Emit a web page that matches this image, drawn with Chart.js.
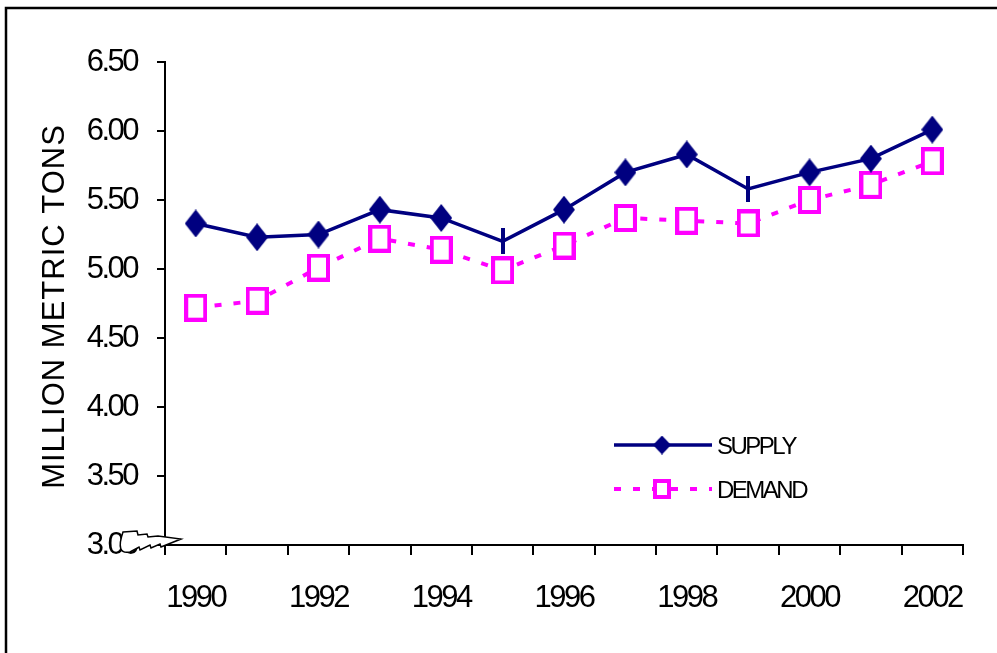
<!DOCTYPE html>
<html>
<head>
<meta charset="utf-8">
<script src="https://cdn.jsdelivr.net/npm/chart.js@4/dist/chart.umd.min.js"></script>
<style>
  html, body { margin: 0; padding: 0; background: #fff; }
  canvas { display: block; }
</style>
</head>
<body>
<canvas id="myChart" width="997" height="653"></canvas>
<script>
// chart values
const years = ['1990', '1991', '1992', '1993', '1994', '1995', '1996', '1997', '1998', '1999', '2000', '2001', '2002'];
const supply = [5.33, 5.23, 5.25, 5.43, 5.37, 5.20, 5.43, 5.70, 5.83, 5.58, 5.70, 5.80, 6.01];
const demand = [4.72, 4.77, 5.01, 5.22, 5.14, 4.99, 5.17, 5.37, 5.35, 5.33, 5.50, 5.61, 5.78];
const supplyBareYears = ['1995', '1999']; // supply points drawn only as a tick
const yMin = 3.0, yMax = 6.5, yStep = 0.5;
const yTitle = 'MILLION METRIC TONS';
const seriesNames = ['SUPPLY', 'DEMAND'];

const NAVY = '#000080';
const PINK = '#FF00FF';
const FONT = "'Liberation Sans', Arial, sans-serif";

// marker images
function diamond(w, h) {
  const c = document.createElement('canvas');
  c.width = w; c.height = h;
  const g = c.getContext('2d');
  g.fillStyle = NAVY;
  g.beginPath();
  g.moveTo(w / 2, 0); g.lineTo(w, h / 2); g.lineTo(w / 2, h); g.lineTo(0, h / 2);
  g.closePath(); g.fill();
  return c;
}
function box(w, h, lw) {
  const c = document.createElement('canvas');
  c.width = w; c.height = h;
  const g = c.getContext('2d');
  g.fillStyle = '#fff';
  g.fillRect(0, 0, w, h);
  g.strokeStyle = PINK;
  g.lineWidth = lw;
  g.strokeRect(lw / 2, lw / 2, w - lw, h - lw);
  return c;
}
function vtick(w, h) {
  const c = document.createElement('canvas');
  c.width = w; c.height = h;
  const g = c.getContext('2d');
  g.fillStyle = NAVY;
  g.fillRect(0, 0, w, h);
  return c;
}

const supplyMark = diamond(22, 28);
const supplyTick = vtick(4, 26);
const demandMark = box(23, 28, 4);
const legendDiamond = diamond(18, 19);
const legendBox = box(18, 20, 4);

// extra drawing: y title, legend inside plot, axis break
const extras = {
  id: 'extras',
  beforeDraw(chart) {
    chart.ctx.letterSpacing = '-2.5px';
  },
  afterDraw(chart) {
    const ctx = chart.ctx;
    const area = chart.chartArea;
    const ys = chart.scales.y;

    // y axis title
    ctx.save();
    ctx.letterSpacing = '1px';
    ctx.fillStyle = '#000';
    ctx.font = '31px ' + FONT;
    ctx.textAlign = 'center';
    ctx.textBaseline = 'middle';
    ctx.translate(55, (area.top + area.bottom) / 2 + 3);
    ctx.rotate(-Math.PI / 2);
    ctx.fillText(yTitle, 0, 0);
    ctx.restore();

    // legend
    const lx0 = 614, lx1 = 712, mid = 662;
    const rows = [445, 489];
    ctx.save();
    ctx.letterSpacing = '-2.5px';
    ctx.font = '24px ' + FONT;
    ctx.fillStyle = '#000';
    ctx.textBaseline = 'middle';
    ctx.textAlign = 'left';
    // supply
    ctx.strokeStyle = NAVY;
    ctx.lineWidth = 3.5;
    ctx.beginPath(); ctx.moveTo(lx0, rows[0]); ctx.lineTo(lx1, rows[0]); ctx.stroke();
    ctx.drawImage(legendDiamond, mid - 9, rows[0] - 9.5);
    ctx.fillText(seriesNames[0], 717, rows[0] + 2);
    // demand
    ctx.strokeStyle = PINK;
    ctx.lineWidth = 4;
    ctx.setLineDash([7, 12]);
    ctx.beginPath(); ctx.moveTo(lx0, rows[1]); ctx.lineTo(lx1, rows[1]); ctx.stroke();
    ctx.setLineDash([]);
    ctx.drawImage(legendBox, mid - 9, rows[1] - 10);
    ctx.fillText(seriesNames[1], 717, rows[1] + 2);
    ctx.restore();

    // axis break at the bottom of the y axis
    const ox = area.left, oy = ys.getPixelForValue(yMin);
    const pts = [[-42, -13], [-28, -14], [-27, -10], [-18, -11], [-17, -8], [-7, -9], [16, -6],
                 [-4, 2], [-5, -1], [-14, 3], [-15, 0], [-25, 5], [-26, 2], [-35, 7]];
    ctx.save();
    ctx.beginPath();
    ctx.moveTo(ox + pts[0][0], oy + pts[0][1]);
    for (let i = 1; i < pts.length; i++) ctx.lineTo(ox + pts[i][0], oy + pts[i][1]);
    ctx.quadraticCurveTo(ox - 50, oy + 10, ox - 42, oy - 13);
    ctx.closePath();
    ctx.fillStyle = '#fff';
    ctx.fill();
    ctx.strokeStyle = '#000';
    ctx.lineWidth = 1.5;
    ctx.stroke();
    ctx.restore();

    // frame (left and top edges)
    ctx.save();
    ctx.strokeStyle = '#000';
    ctx.lineWidth = 2.5;
    ctx.beginPath();
    ctx.moveTo(6, chart.height); ctx.lineTo(6, 8); ctx.lineTo(chart.width, 8);
    ctx.stroke();
    ctx.restore();
  }
};

const ctx = document.getElementById('myChart').getContext('2d');
new Chart(ctx, {
  type: 'line',
  data: {
    labels: years,
    datasets: [{
      label: seriesNames[0],
      data: supply,
      borderColor: NAVY,
      borderWidth: 3.5,
      fill: false,
      tension: 0,
      pointStyle: years.map(y => supplyBareYears.includes(y) ? supplyTick : supplyMark),
      pointRadius: 12
    }, {
      label: seriesNames[1],
      data: demand,
      borderColor: PINK,
      borderWidth: 4,
      borderDash: [7, 12],
      fill: false,
      tension: 0,
      pointStyle: demandMark,
      pointRadius: 12
    }]
  },
  options: {
    responsive: false,
    animation: false,
    devicePixelRatio: 1,
    layout: { padding: { top: 62, right: 34, left: 0, bottom: 0 } },
    plugins: {
      legend: { display: false },
      tooltip: { enabled: false }
    },
    scales: {
      x: {
        offset: true,
        grid: { offset: true, drawOnChartArea: false, drawTicks: true, tickLength: 10, color: '#000', lineWidth: 2 },
        border: { color: '#000', width: 2 },
        ticks: {
          autoSkip: false,
          maxRotation: 0,
          padding: 25,
          color: '#000',
          font: { size: 31, family: FONT },
          callback: function (v, i) { return i % 2 === 0 ? this.getLabelForValue(v) : ''; }
        },
        afterFit(s) { s.height = 108; }
      },
      y: {
        min: yMin,
        max: yMax,
        grid: { drawOnChartArea: false, drawTicks: true, tickLength: 8, color: '#000', lineWidth: 2 },
        border: { color: '#000', width: 2 },
        ticks: {
          stepSize: yStep,
          padding: 20,
          color: '#000',
          font: { size: 31, family: FONT },
          callback: v => v.toFixed(2)
        },
        afterFit(s) { s.width = 165; }
      }
    }
  },
  plugins: [extras]
});
</script>
</body>
</html>
